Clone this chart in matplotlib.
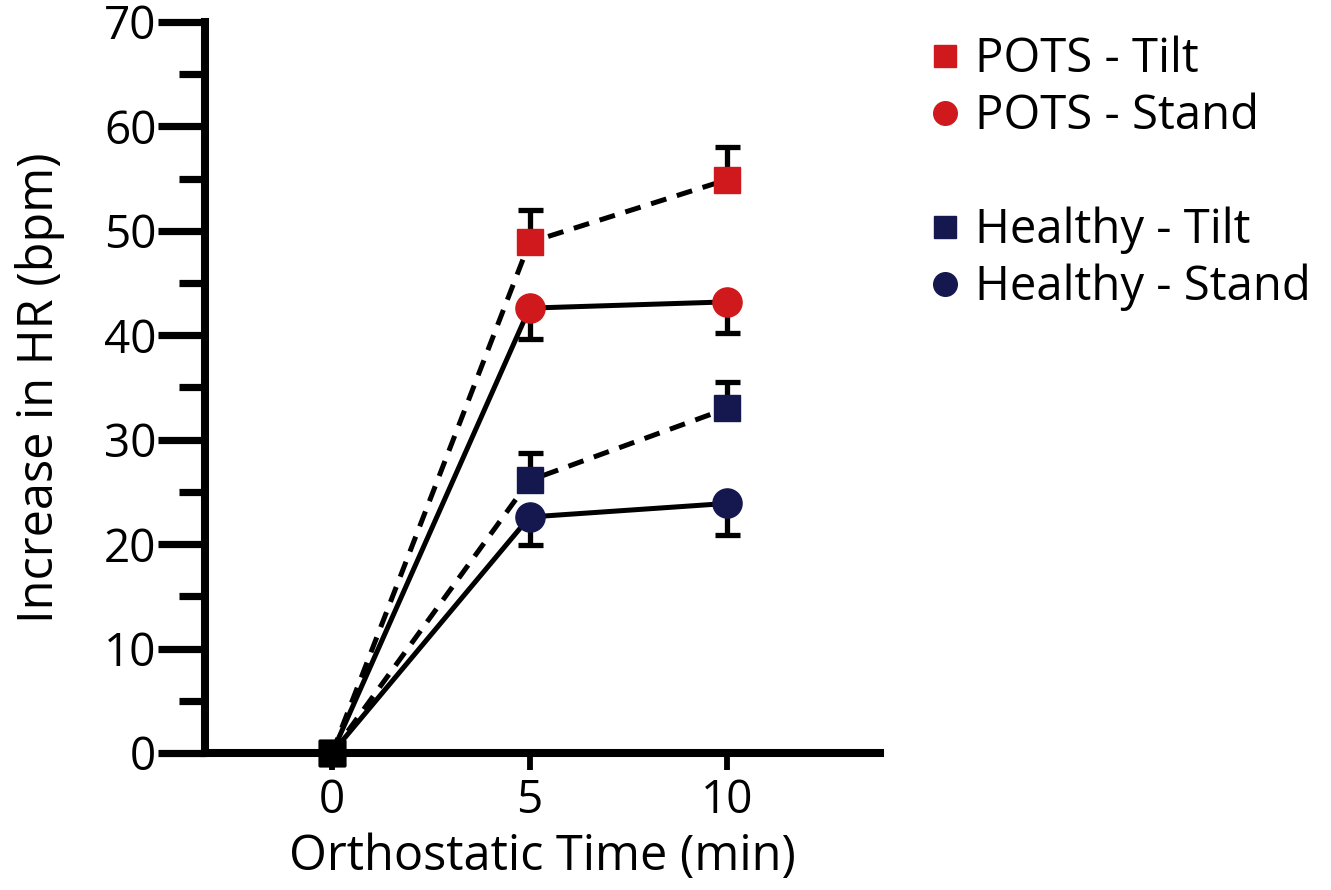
import matplotlib
matplotlib.use("Agg")
import matplotlib.pyplot as plt
from matplotlib.lines import Line2D

plt.rcParams['font.family'] = ['Open Sans', 'DejaVu Sans']

time = [0, 5, 10]
series_names = ["POTS - Tilt", "POTS - Stand", "Healthy - Tilt", "Healthy - Stand"]
pots_tilt = [0, 48.9, 54.9]
pots_stand = [0, 42.6, 43.2]
healthy_tilt = [0, 26.1, 33.0]
healthy_stand = [0, 22.6, 23.9]
pots_tilt_err = [0, 3.1, 3.1]        # upper only
pots_stand_err = [0, 3.0, 3.0]       # lower only
healthy_tilt_err = [0, 2.6, 2.5]     # upper only
healthy_stand_err = [0, 2.7, 3.0]    # lower only
yticks = [0, 10, 20, 30, 40, 50, 60, 70]
xticks = [0, 5, 10]

RED = "#D0191C"
NAVY = "#15184F"

fig = plt.figure(figsize=(13.31, 8.90), dpi=100)
ax = fig.add_axes([205/1331, 1-753/890, (880-205)/1331, (753-22)/890])

specs = [
    (pots_tilt, pots_tilt_err, "upper", "s", RED, (0, (3.2, 2.2)), series_names[0]),
    (pots_stand, pots_stand_err, "lower", "o", RED, "-", series_names[1]),
    (healthy_tilt, healthy_tilt_err, "upper", "s", NAVY, (0, (3.2, 2.2)), series_names[2]),
    (healthy_stand, healthy_stand_err, "lower", "o", NAVY, "-", series_names[3]),
]

for vals, err, side, mk, col, ls, name in specs:
    ax.plot(time, vals, color="black", lw=3.6, linestyle=ls, zorder=2,
            solid_capstyle="butt", dash_capstyle="butt")
    if side == "upper":
        yerr = [[0]*len(err), err]
    else:
        yerr = [err, [0]*len(err)]
    ax.errorbar(time[1:], vals[1:], yerr=[yerr[0][1:], yerr[1][1:]], fmt="none",
                ecolor="black", elinewidth=3.8, capsize=9, capthick=3.8, zorder=3)
    ax.plot(time[1:], vals[1:], linestyle="none", marker=mk,
            markersize=19 if mk == "s" else 21, markerfacecolor=col,
            markeredgecolor=col, zorder=4)
    ax.plot(time[:1], vals[:1], linestyle="none", marker="s", markersize=19,
            color="black", zorder=5, clip_on=False)

ax.set_xlim(-3.215, 13.87)
ax.set_ylim(0, 70)
ax.set_xticks(xticks)
ax.set_yticks(yticks)
ax.set_yticks([5, 15, 25, 35, 45, 55, 65], minor=True)

for s in ["top", "right"]:
    ax.spines[s].set_visible(False)
for s in ["left", "bottom"]:
    ax.spines[s].set_linewidth(5.8)
    ax.spines[s].set_capstyle("projecting")

ax.tick_params(axis="y", which="major", length=34, width=5.2, labelsize=33, pad=1)
ax.tick_params(axis="y", which="minor", length=19, width=5.2)
ax.tick_params(axis="x", which="major", length=12, width=4.2, labelsize=33, pad=6)

ax.set_xlabel("Orthostatic Time (min)", fontsize=35, labelpad=6)
ax.set_ylabel("Increase in HR (bpm)", fontsize=35, labelpad=28)

handles = [
    Line2D([], [], linestyle="none", marker="s", markersize=16, color=RED),
    Line2D([], [], linestyle="none", marker="o", markersize=17, color=RED),
    Line2D([], [], linestyle="none", marker="", color="none"),
    Line2D([], [], linestyle="none", marker="s", markersize=16, color=NAVY),
    Line2D([], [], linestyle="none", marker="o", markersize=17, color=NAVY),
]
labels = [series_names[0], series_names[1], "", series_names[2], series_names[3]]
fig.legend(handles, labels, loc="upper left", bbox_to_anchor=(931/1331, 1-36/890),
           frameon=False, fontsize=34, handlelength=0.6, handletextpad=0.34,
           labelspacing=0.2, borderpad=0, borderaxespad=0)

fig.savefig("out.png", dpi=100)
